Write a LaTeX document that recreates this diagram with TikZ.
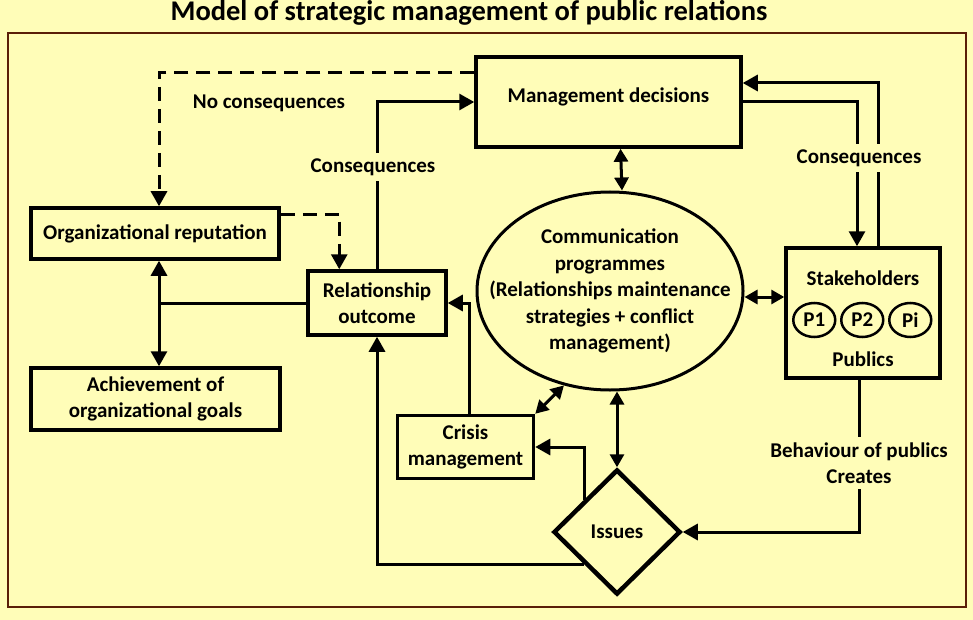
\documentclass[tikz,border=0pt]{standalone}
\usepackage{fontspec}
\setmainfont{Carlito}
\usetikzlibrary{calc,positioning,arrows.meta,shapes.geometric}
\definecolor{paper}{HTML}{FFFDB8}
\definecolor{frame}{HTML}{5A1E08}
\newcommand\txtfont{\fontsize{21}{26.5}\selectfont\bfseries}

\tikzset{
  box/.style={rectangle,draw=black,line width=3.5pt,fill=paper,align=center,inner sep=0pt},
  lbl/.style={fill=paper,align=center,inner sep=5pt},
  plain/.style={draw=black,line width=3pt},
  conn/.style={plain,-{Triangle[length=15pt,width=16pt]}},
  dblconn/.style={plain,{Triangle[length=13pt,width=14pt]}-{Triangle[length=13pt,width=14pt]}},
  dashconn/.style={conn,dash pattern=on 14pt off 8pt}
}

\begin{document}
\begin{tikzpicture}[x=1pt,y=-1pt,font=\txtfont]

  \useasboundingbox[fill=paper] (0,0) rectangle (973,620);
  \draw[frame,line width=2.5pt] (8,33) rectangle (966,607);
  \node (title) [font=\fontsize{28.5}{32}\selectfont\bfseries] at (469,13) {Model of strategic management of public relations};

  \node (mgmt) [box,minimum width=265pt,minimum height=90pt] at (608.5,102) {};
  \node (mgmt_txt) at ($(mgmt)+(0,-5)$) {Management decisions};
  \node (orgrep) [box,minimum width=248pt,minimum height=51pt] at (155,233.5) {Organizational reputation};
  \node (relout) [box,minimum width=138pt,minimum height=64pt] at (377,303) {Relationship\\outcome};
  \node (achieve) [box,minimum width=249pt,minimum height=62pt] at (155.5,399) {Achievement of\\organizational goals};
  \node (crisis) [box,minimum width=136pt,minimum height=63pt] at (465.5,447) {Crisis\\management};

  \node (comm) [ellipse,draw=black,line width=3pt,minimum width=266pt,minimum height=198pt,inner sep=0pt] at (610,291) {};
  \node (comm_txt) [align=center] at (comm) {Communication\\programmes\\(Relationships maintenance\\strategies + conflict\\management)};

  \node (stake) [box,minimum width=154pt,minimum height=130pt] at (863,313) {};
  \node (stake_top) at ($(stake.north)+(0,32)$) {Stakeholders};
  \node (stake_bot) at ($(stake.south)+(0,-21)$) {Publics};
  \foreach \p [count=\i from 0] in {P1,P2,Pi}
    {
      \node (pub_\i) [ellipse,draw=black,line width=2.5pt,minimum width=42pt,minimum height=34pt,inner sep=0pt] at ($(stake.west)+(30+48*\i,7)$) {\p};
    }

  \node (issues) [diamond,draw=black,line width=4.5pt,minimum width=127pt,minimum height=125pt,inner sep=0pt,fill=paper] at (617,532) {Issues};

  %% feedback without consequences
  \draw[dashconn] ($(mgmt.north west)+(0,17)$) -| ($(orgrep.north)+(4,0)$);
  \draw[dashconn] ($(orgrep.north east)+(0,8)$) -| ($(relout.north west)+(33,0)$);
  \node (nocons) at (269,103) {No consequences};

  %% consequences towards management
  \draw[conn] (relout.north) |- (mgmt.west);
  \node (cons_l) [lbl] at (373,167) {Consequences};

  \coordinate (split) at (159,303);
  \draw[plain] (relout.west) -- (split);
  \draw[conn] (split) -- (split |- orgrep.south);
  \draw[conn] (split) -- (split |- achieve.north);

  %% crisis and issues
  \draw[conn] ($(crisis.north)+(4,0)$) |- (relout.east);
  \draw[conn] (issues.north west) |- (crisis.east);
  \draw[conn] (issues.south west) -| (relout.south);
  \draw[dblconn] (crisis.north east) -- (comm.244);
  \draw[dblconn] (issues.north) -- (issues.north |- comm.south);
  \draw[dblconn] ($(mgmt.south)+(12,0)$) -- ($(comm.north)+(12,0)$);
  \draw[dblconn] ($(comm.east)+(0,6)$) -- ($(comm.east -| stake.west)+(0,6)$);

  %% stakeholders loop
  \draw[conn] (mgmt.east) -| ($(stake.north)+(-6,0)$);
  \draw[conn] ($(stake.north)+(15,0)$) |- ($(mgmt.east)+(0,-19)$);
  \node (cons_r) [lbl] at (859,158) {Consequences};
  \draw[conn] ($(stake.south)+(-4,0)$) |- (issues.east);
  \node (behav) [lbl] at (859,463) {Behaviour of publics\\Creates};

\end{tikzpicture}
\end{document}
